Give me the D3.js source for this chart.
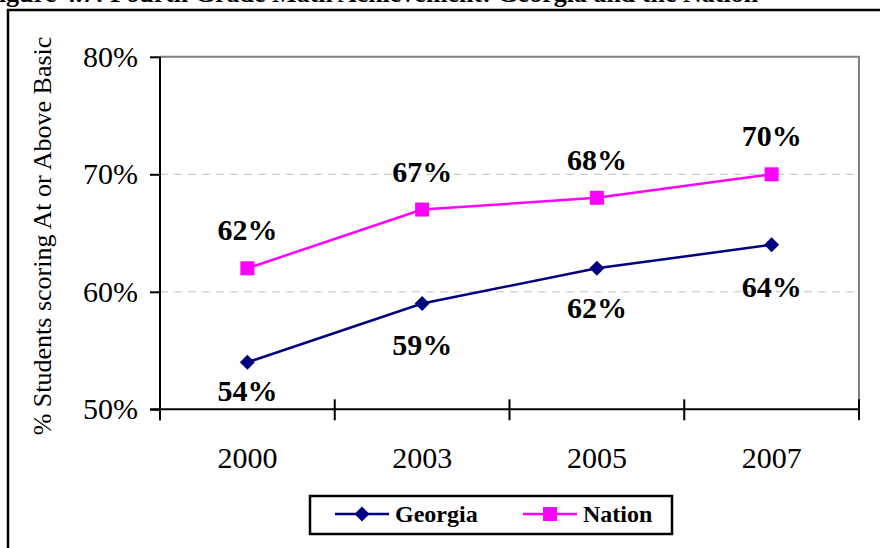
<!DOCTYPE html>
<html>
<head>
<meta charset="utf-8">
<script src="https://cdn.jsdelivr.net/npm/d3@7"></script>
<style>
  html, body { margin: 0; padding: 0; background: #fff; }
  svg { display: block; }
</style>
</head>
<body>
<svg id="chart" width="880" height="548"></svg>
<script>
// ---- data ----
const years = ["2000", "2003", "2005", "2007"];
const georgia = [54, 59, 62, 64];
const nation = [62, 67, 68, 70];
const yTicks = [50, 60, 70, 80];
const seriesNames = ["Georgia", "Nation"];
const titleText = "Figure 4.7: Fourth Grade Math Achievement: Georgia and the Nation";
const yTitle = "% Students scoring At or Above Basic";

// ---- layout ----
const W = 880, H = 548;
const FONT = "'Liberation Serif', 'Times New Roman', Times, serif";
const plot = { left: 160, right: 859, top: 56.8, bottom: 409.3 };
const geoLabelDy = [39, 51, 50, 52];
const natLabelDy = 28;
const colGeo = "#000080", colNat = "#FF00FF";

const svg = d3.select("#chart");
const txt = (sel) => sel.style("font-family", FONT).style("fill", "#000");

// cut-off title at top
svg.append("text")
  .attr("x", -17).attr("y", 2)
  .style("font-size", "26px").style("font-weight", "bold")
  .call(txt)
  .text(titleText);

// outer frame
svg.append("path")
  .attr("d", `M${W + 5},10 H8 V${H + 5}`)
  .attr("fill", "none").attr("stroke", "#000").attr("stroke-width", 2.5);

const x = d3.scaleBand().domain(years).range([plot.left, plot.right]);
const y = d3.scaleLinear().domain([50, 80]).range([plot.bottom, plot.top]);
const cx = d => x(d) + x.bandwidth() / 2;

// gridlines
svg.append("g").selectAll("line")
  .data(yTicks.filter(t => t > 50 && t < 80))
  .join("line")
  .attr("x1", plot.left).attr("x2", plot.right)
  .attr("y1", d => y(d)).attr("y2", d => y(d))
  .attr("stroke", "#c0c0c0").attr("stroke-width", 1)
  .attr("stroke-dasharray", "8,6");

// plot border top/right
svg.append("path")
  .attr("d", `M${plot.left},${y(80)} H${plot.right} V${y(50)}`)
  .attr("fill", "none").attr("stroke", "#808080").attr("stroke-width", 2);

// y axis
const yAxis = d3.axisLeft(y).tickValues(yTicks).tickSize(10).tickPadding(12)
  .tickFormat(d => d + "%");
const gy = svg.append("g").attr("transform", `translate(${plot.left},0)`).call(yAxis);
gy.attr("font-family", null).attr("font-size", null);
gy.select(".domain").remove();
gy.selectAll(".tick line").attr("stroke", "#000").attr("stroke-width", 2);
gy.selectAll(".tick text").style("font-size", "30px").call(txt);
svg.append("line")
  .attr("x1", plot.left).attr("x2", plot.left)
  .attr("y1", y(80)).attr("y2", y(50) + 11)
  .attr("stroke", "#000").attr("stroke-width", 2);

// x axis
svg.append("line")
  .attr("x1", plot.left - 10).attr("x2", plot.right)
  .attr("y1", y(50)).attr("y2", y(50))
  .attr("stroke", "#000").attr("stroke-width", 2);
const bounds = years.map(d => x(d)).concat([plot.right]);
svg.append("g").selectAll("line").data(bounds).join("line")
  .attr("x1", d => d).attr("x2", d => d)
  .attr("y1", y(50) - 10).attr("y2", y(50) + 11)
  .attr("stroke", "#000").attr("stroke-width", 2);
svg.append("g").selectAll("text").data(years).join("text")
  .attr("x", d => cx(d)).attr("y", 468)
  .attr("text-anchor", "middle").style("font-size", "30px")
  .call(txt)
  .text(d => d);

// y title
svg.append("text")
  .attr("transform", `translate(51,236) rotate(-90)`)
  .attr("text-anchor", "middle").style("font-size", "26px")
  .call(txt)
  .text(yTitle);

// lines
const line = d3.line().x(d => cx(d[0])).y(d => y(d[1]));
const geoPts = years.map((d, i) => [d, georgia[i]]);
const natPts = years.map((d, i) => [d, nation[i]]);
svg.append("path").datum(geoPts).attr("d", line)
  .attr("fill", "none").attr("stroke", colGeo).attr("stroke-width", 2.5);
svg.append("path").datum(natPts).attr("d", line)
  .attr("fill", "none").attr("stroke", colNat).attr("stroke-width", 2.5);

const diamond = s => `M0,${-s} L${s},0 L0,${s} L${-s},0 Z`;
svg.append("g").selectAll("path").data(geoPts).join("path")
  .attr("transform", d => `translate(${cx(d[0])},${y(d[1])})`)
  .attr("d", diamond(7.5)).attr("fill", colGeo);
svg.append("g").selectAll("rect").data(natPts).join("rect")
  .attr("x", d => cx(d[0]) - 7).attr("y", d => y(d[1]) - 7)
  .attr("width", 14).attr("height", 14).attr("fill", colNat);

// data labels
svg.append("g").selectAll("text").data(natPts).join("text")
  .attr("x", d => cx(d[0])).attr("y", d => y(d[1]) - natLabelDy)
  .attr("text-anchor", "middle").style("font-size", "30px").style("font-weight", "bold")
  .call(txt)
  .text(d => d[1] + "%");
svg.append("g").selectAll("text").data(geoPts).join("text")
  .attr("x", d => cx(d[0])).attr("y", (d, i) => y(d[1]) + geoLabelDy[i])
  .attr("text-anchor", "middle").style("font-size", "30px").style("font-weight", "bold")
  .call(txt)
  .text(d => d[1] + "%");

// legend
const lg = svg.append("g");
lg.append("rect").attr("x", 310).attr("y", 496).attr("width", 362).attr("height", 38)
  .attr("fill", "#fff").attr("stroke", "#000").attr("stroke-width", 2.5);
const ly = 514;
lg.append("line").attr("x1", 335).attr("x2", 389).attr("y1", ly).attr("y2", ly)
  .attr("stroke", colGeo).attr("stroke-width", 2.5);
lg.append("path").attr("transform", `translate(362,${ly})`).attr("d", diamond(7.5)).attr("fill", colGeo);
lg.append("text").attr("x", 395).attr("y", ly + 8).style("font-size", "24px").style("font-weight", "bold")
  .call(txt)
  .text(seriesNames[0]);
lg.append("line").attr("x1", 523).attr("x2", 577).attr("y1", ly).attr("y2", ly)
  .attr("stroke", colNat).attr("stroke-width", 2.5);
lg.append("rect").attr("x", 543).attr("y", ly - 7).attr("width", 14).attr("height", 14).attr("fill", colNat);
lg.append("text").attr("x", 583).attr("y", ly + 8).style("font-size", "24px").style("font-weight", "bold")
  .call(txt)
  .text(seriesNames[1]);
</script>
</body>
</html>
